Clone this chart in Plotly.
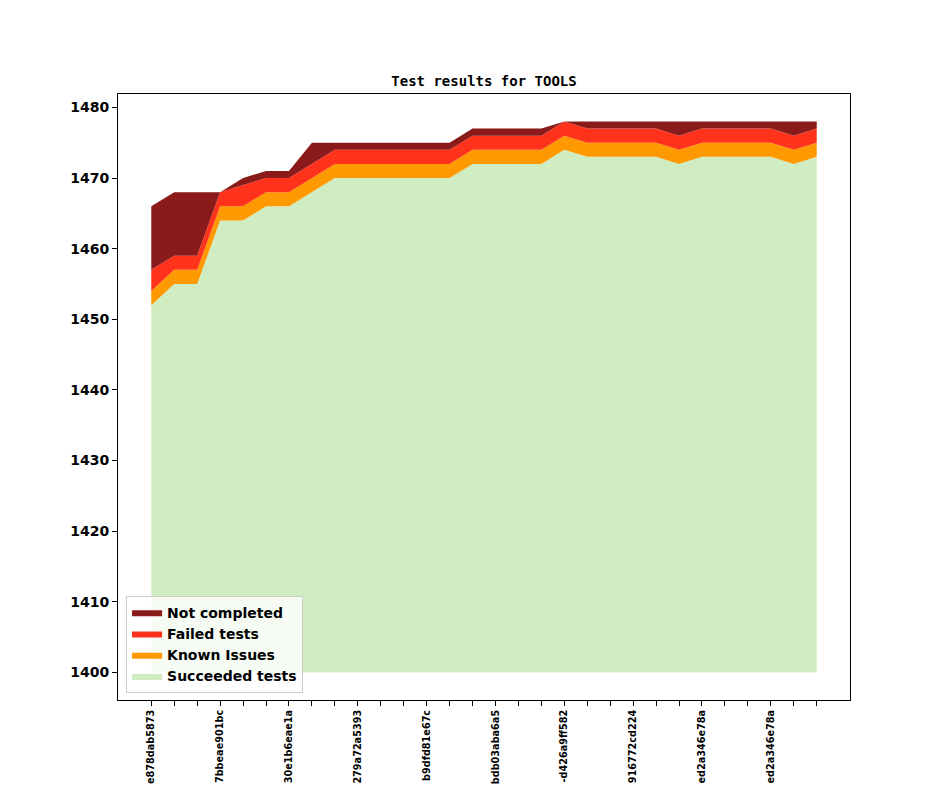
import plotly.graph_objects as go

# one point per build, commit hash shown on every third tick
builds = list(range(30))
tick_labels = [
    "e878dab5873", "7bbeae901bc", "30e1b6eae1a", "279a72a5393", "b9dfd81e67c",
    "bdb03aba6a5", "-d426a9ff582", "916772cd224", "ed2a346e78a", "ed2a346e78a",
]

base = [1400] * 30
succeeded = [1452, 1455, 1455, 1464, 1464, 1466, 1466, 1468, 1470, 1470,
             1470, 1470, 1470, 1470, 1472, 1472, 1472, 1472, 1474, 1473,
             1473, 1473, 1473, 1472, 1473, 1473, 1473, 1473, 1472, 1473]
known_issues = [2] * 30
failed = [3, 2, 2, 2, 3, 2, 2, 2, 2, 2,
          2, 2, 2, 2, 2, 2, 2, 2, 2, 2,
          2, 2, 2, 2, 2, 2, 2, 2, 2, 2]
not_completed = [9, 9, 9, 0, 1, 1, 1, 3, 1, 1,
                 1, 1, 1, 1, 1, 1, 1, 1, 0, 1,
                 1, 1, 1, 2, 1, 1, 1, 1, 2, 1]

ticktext = []
for i in builds:
    ticktext.append(tick_labels[i // 3] if i % 3 == 0 else "")

# stacked tops
top_succ = succeeded
top_known = [a + b for a, b in zip(top_succ, known_issues)]
top_failed = [a + b for a, b in zip(top_known, failed)]
top_nc = [a + b for a, b in zip(top_failed, not_completed)]

fig = go.Figure()
fig.add_trace(
    go.Scatter(
        x=builds, y=base, mode="lines", line=dict(width=0),
        showlegend=False, hoverinfo="skip",
    )
)
for name, ys, color in [
    ("Succeeded tests", top_succ, "#cfedc0"),
    ("Known Issues", top_known, "#ff9900"),
    ("Failed tests", top_failed, "#ff331c"),
    ("Not completed", top_nc, "#8b1a1a"),
]:
    fig.add_trace(
        go.Scatter(
            x=builds, y=ys, name=name, mode="lines", line=dict(width=0, color=color),
            fill="tonexty", fillcolor=color,
        )
    )

fig.update_layout(
    width=944,
    height=787,
    margin=dict(l=110, r=102, t=86, b=95),
    paper_bgcolor="white",
    plot_bgcolor="white",
    title=dict(
        text="Test results for TOOLS",
        x=476 / 944, xanchor="center",
        y=1 - 73 / 787, yanchor="middle",
        font=dict(family="DejaVu Sans Mono", size=14, color="black", weight="bold"),
    ),
    legend=dict(
        x=0.011, y=0.012, xanchor="left", yanchor="bottom",
        traceorder="reversed",
        bgcolor="rgba(255,255,255,0.8)",
        bordercolor="#cccccc", borderwidth=1,
        font=dict(family="DejaVu Sans", size=14, color="black", weight="bold"),
    ),
)

fig.update_xaxes(
    range=[-1.45, 30.45],
    tickmode="array", tickvals=builds, ticktext=ticktext,
    tickangle=-90,
    tickfont=dict(family="DejaVu Sans", size=9.7, color="black", weight="bold"),
    ticks="outside", ticklen=5, tickcolor="black",
    showline=True, linecolor="black", linewidth=1, mirror=True,
    showgrid=False, zeroline=False, automargin=False,
)
fig.update_yaxes(
    range=[1396.1, 1481.9],
    tickmode="linear", tick0=1400, dtick=10,
    tickfont=dict(family="DejaVu Sans", size=14, color="black", weight="bold"),
    ticks="outside", ticklen=5, tickcolor="black",
    showline=True, linecolor="black", linewidth=1, mirror=True,
    showgrid=False, zeroline=False, automargin=False,
)

fig.write_html("out.html")
